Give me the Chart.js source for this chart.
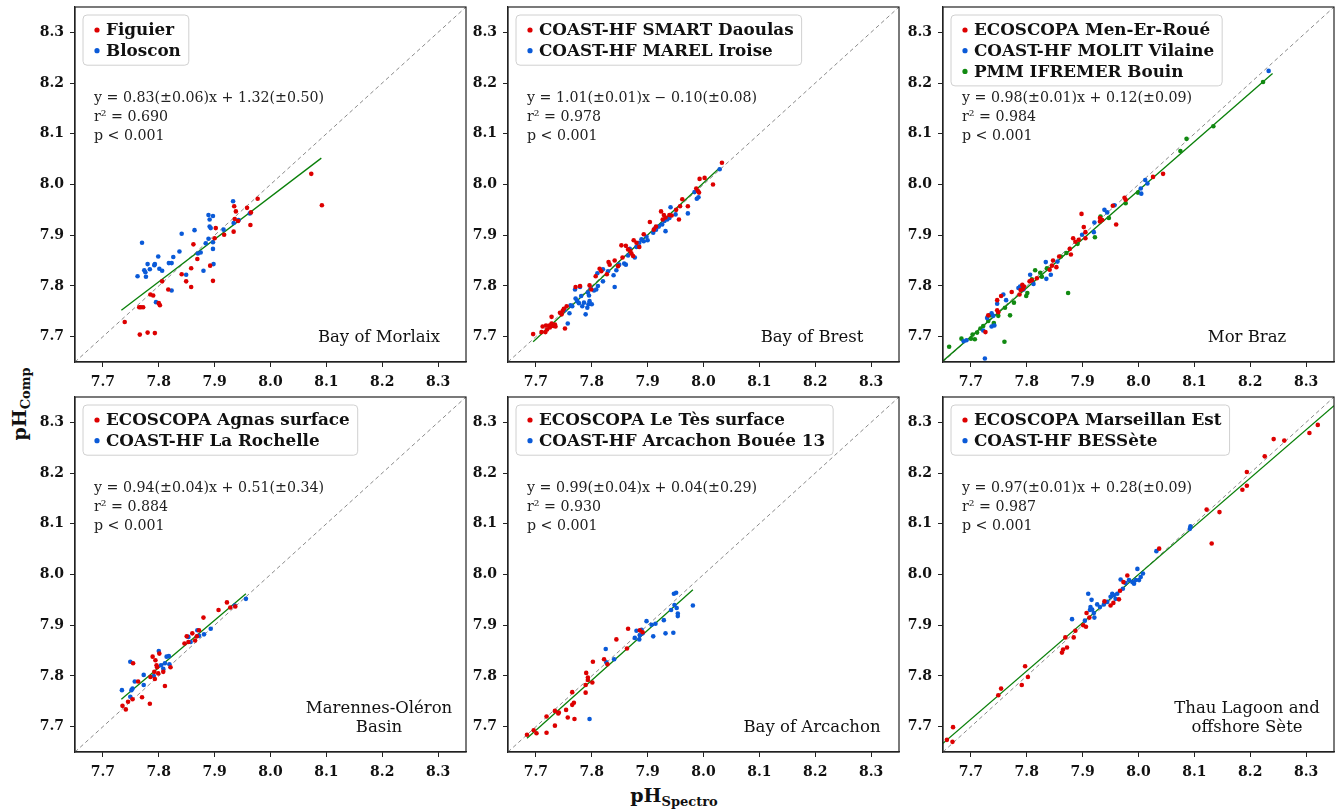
<!DOCTYPE html>
<html>
<head>
<meta charset="utf-8">
<script src="https://cdn.jsdelivr.net/npm/chart.js@4.4.0/dist/chart.umd.min.js"></script>
<style>
  body { margin: 0; background: #fff; width: 1338px; height: 809px; position: relative; overflow: hidden; font-family: "DejaVu Serif", serif; }
  canvas { position: absolute; }
  .lab { position: absolute; font-weight: bold; font-size: 19px; color: #111; white-space: nowrap; transform: translate(-50%, -50%); }
  .lab sub { font-size: 13px; vertical-align: -4px; }
  #ylab { left: 20px; top: 404px; transform: translate(-50%, -50%) rotate(-90deg); }
  #xlab { left: 674px; top: 796px; }
</style>
</head>
<body>
<div class="lab" id="ylab">pH<sub>Comp</sub></div>
<div class="lab" id="xlab">pH<sub>Spectro</sub></div>
<script>
const TICKS = [7.7, 7.8, 7.9, 8.0, 8.1, 8.2, 8.3];
const AXIS_MIN = 7.65, AXIS_MAX = 8.35;
const ONE_TO_ONE = [7.65, 8.35];

const RED = "#dd0000", BLUE = "#0a5ad8", GREEN = "#118a11", FIT = "#0a800a";

// Bay of Morlaix
const figuier = [[7.739,7.729],[7.766,7.704],[7.780,7.708],[7.793,7.707],[7.765,7.758],[7.768,7.758],[7.772,7.758],[7.785,7.783],[7.790,7.781],[7.800,7.766],[7.802,7.762],[7.806,7.809],[7.817,7.793],[7.841,7.823],[7.849,7.809],[7.858,7.835],[7.858,7.798],[7.862,7.882],[7.869,7.853],[7.892,7.840],[7.897,7.810],[7.900,7.894],[7.902,7.914],[7.917,7.901],[7.934,7.907],[7.935,7.957],[7.938,7.947],[7.936,7.932],[7.942,7.928],[7.958,7.954],[7.965,7.945],[7.964,7.920],[7.977,7.972],[8.073,8.021],[8.092,7.959]];
const bloscon = [[7.770,7.885],[7.762,7.819],[7.774,7.831],[7.776,7.827],[7.777,7.818],[7.780,7.843],[7.784,7.833],[7.792,7.841],[7.793,7.843],[7.799,7.858],[7.801,7.834],[7.806,7.830],[7.818,7.845],[7.823,7.845],[7.826,7.857],[7.837,7.868],[7.841,7.903],[7.795,7.768],[7.823,7.791],[7.849,7.822],[7.864,7.910],[7.870,7.864],[7.875,7.866],[7.880,7.830],[7.884,7.884],[7.889,7.940],[7.897,7.938],[7.891,7.931],[7.891,7.917],[7.893,7.914],[7.889,7.893],[7.897,7.886],[7.897,7.873],[7.898,7.843],[7.916,7.911],[7.933,7.967],[7.934,7.924],[7.943,7.930],[7.963,7.943]];
const morlaixFit = [[7.733,7.752],[8.091,8.052]];

// Bay of Brest
const daoulas = [[7.695,7.705],[7.712,7.720],[7.718,7.722],[7.724,7.722],[7.728,7.726],[7.720,7.714],[7.725,7.718],[7.731,7.721],[7.734,7.724],[7.717,7.709],[7.710,7.709],[7.728,7.739],[7.735,7.720],[7.752,7.716],[7.743,7.747],[7.748,7.751],[7.750,7.755],[7.746,7.744],[7.755,7.760],[7.771,7.798],[7.779,7.800],[7.796,7.801],[7.799,7.793],[7.807,7.819],[7.814,7.834],[7.817,7.829],[7.827,7.823],[7.830,7.847],[7.832,7.842],[7.841,7.850],[7.847,7.839],[7.853,7.880],[7.861,7.879],[7.855,7.856],[7.865,7.872],[7.869,7.869],[7.874,7.859],[7.871,7.864],[7.875,7.890],[7.880,7.885],[7.885,7.877],[7.893,7.902],[7.904,7.926],[7.911,7.911],[7.915,7.917],[7.924,7.947],[7.929,7.940],[7.932,7.935],[7.927,7.931],[7.939,7.940],[7.943,7.939],[7.956,7.931],[7.951,7.950],[7.958,7.957],[7.962,7.971],[7.972,7.957],[7.987,7.992],[7.990,7.987],[7.992,7.984],[7.993,8.011],[8.002,8.013],[8.017,8.000],[8.033,8.043]];
const iroise = [[7.751,7.752],[7.757,7.726],[7.760,7.746],[7.762,7.762],[7.765,7.760],[7.770,7.793],[7.771,7.775],[7.774,7.770],[7.777,7.766],[7.781,7.780],[7.783,7.760],[7.786,7.767],[7.789,7.744],[7.792,7.757],[7.794,7.764],[7.796,7.770],[7.800,7.764],[7.793,7.787],[7.795,7.781],[7.798,7.795],[7.804,7.791],[7.808,7.793],[7.811,7.800],[7.779,7.798],[7.810,7.825],[7.820,7.833],[7.820,7.809],[7.829,7.829],[7.839,7.821],[7.841,7.798],[7.844,7.831],[7.858,7.844],[7.861,7.842],[7.849,7.842],[7.865,7.860],[7.868,7.873],[7.877,7.856],[7.880,7.877],[7.885,7.885],[7.889,7.892],[7.893,7.888],[7.898,7.897],[7.900,7.890],[7.910,7.905],[7.913,7.913],[7.915,7.911],[7.920,7.917],[7.926,7.921],[7.930,7.928],[7.932,7.908],[7.935,7.931],[7.939,7.934],[7.941,7.955],[7.950,7.941],[7.972,7.943],[7.984,7.985],[7.988,7.972],[7.991,7.975],[8.029,8.030]];
const brestFit = [[7.695,7.690],[8.029,8.033]];

// Mor Braz
const menErRoue = [[7.726,7.709],[7.731,7.742],[7.747,7.772],[7.747,7.752],[7.754,7.780],[7.749,7.748],[7.773,7.788],[7.787,7.783],[7.789,7.792],[7.793,7.794],[7.795,7.799],[7.792,7.802],[7.805,7.809],[7.809,7.811],[7.818,7.815],[7.841,7.832],[7.845,7.840],[7.847,7.850],[7.853,7.837],[7.858,7.858],[7.877,7.873],[7.879,7.862],[7.883,7.894],[7.887,7.887],[7.893,7.891],[7.905,7.894],[7.898,7.942],[7.902,7.916],[7.905,7.906],[7.931,7.927],[7.931,7.934],[7.935,7.930],[7.954,7.958],[7.960,7.921],[7.975,7.974],[7.977,7.970],[8.026,8.015],[8.044,8.021]];
const vilaine = [[7.725,7.657],[7.687,7.691],[7.692,7.693],[7.722,7.712],[7.729,7.737],[7.737,7.746],[7.740,7.741],[7.742,7.722],[7.737,7.720],[7.747,7.765],[7.758,7.783],[7.763,7.772],[7.785,7.796],[7.788,7.799],[7.794,7.793],[7.806,7.822],[7.812,7.804],[7.834,7.847],[7.835,7.814],[7.843,7.822],[7.855,7.848],[7.899,7.901],[7.920,7.906],[7.921,7.925],[7.939,7.950],[7.944,7.945],[7.957,7.959],[8.004,7.992],[8.005,7.982],[8.012,8.009],[8.016,8.002],[8.233,8.224]];
const bouin = [[7.661,7.680],[7.683,7.696],[7.700,7.696],[7.703,7.704],[7.707,7.695],[7.711,7.708],[7.717,7.716],[7.722,7.721],[7.731,7.731],[7.734,7.742],[7.741,7.724],[7.749,7.741],[7.741,7.727],[7.760,7.690],[7.761,7.757],[7.770,7.742],[7.777,7.767],[7.799,7.780],[7.801,7.786],[7.809,7.813],[7.815,7.831],[7.824,7.826],[7.827,7.818],[7.836,7.835],[7.861,7.858],[7.871,7.865],[7.874,7.786],[7.891,7.883],[7.922,7.896],[7.932,7.937],[7.947,7.934],[7.977,7.963],[7.999,7.984],[8.075,8.066],[8.086,8.090],[8.134,8.115],[8.223,8.202]];
const morBrazFit = [[7.650,7.652],[8.240,8.219]];

// Marennes-Oléron
const agnas = [[7.735,7.741],[7.741,7.734],[7.745,7.749],[7.753,7.754],[7.754,7.825],[7.763,7.789],[7.770,7.758],[7.784,7.745],[7.785,7.798],[7.793,7.794],[7.792,7.808],[7.789,7.838],[7.794,7.831],[7.796,7.821],[7.797,7.817],[7.801,7.844],[7.799,7.805],[7.808,7.808],[7.811,7.780],[7.821,7.817],[7.846,7.864],[7.850,7.878],[7.853,7.867],[7.860,7.884],[7.865,7.870],[7.868,7.878],[7.872,7.890],[7.880,7.915],[7.907,7.930],[7.922,7.945],[7.928,7.935],[7.937,7.937]];
const rochelle = [[7.734,7.772],[7.749,7.759],[7.753,7.775],[7.751,7.772],[7.749,7.828],[7.757,7.789],[7.773,7.802],[7.773,7.782],[7.791,7.800],[7.800,7.849],[7.804,7.821],[7.808,7.814],[7.811,7.825],[7.814,7.838],[7.818,7.839],[7.819,7.823],[7.853,7.877],[7.857,7.867],[7.869,7.890],[7.872,7.879],[7.881,7.882],[7.893,7.893],[7.936,7.939],[7.956,7.952]];
const marennesFit = [[7.733,7.754],[7.956,7.962]];

// Bay of Arcachon
const lesTes = [[7.684,7.684],[7.696,7.693],[7.701,7.687],[7.719,7.688],[7.719,7.720],[7.734,7.731],[7.740,7.726],[7.741,7.728],[7.734,7.702],[7.754,7.733],[7.757,7.718],[7.765,7.743],[7.768,7.747],[7.769,7.715],[7.765,7.768],[7.789,7.767],[7.789,7.782],[7.793,7.792],[7.793,7.797],[7.790,7.806],[7.801,7.787],[7.802,7.828],[7.822,7.833],[7.828,7.823],[7.844,7.872],[7.863,7.854],[7.865,7.893],[7.886,7.890],[7.891,7.886]];
const bouee13 = [[7.796,7.715],[7.825,7.853],[7.826,7.827],[7.840,7.833],[7.877,7.875],[7.880,7.889],[7.885,7.872],[7.886,7.880],[7.889,7.891],[7.891,7.884],[7.898,7.908],[7.907,7.901],[7.910,7.878],[7.914,7.903],[7.929,7.910],[7.932,7.884],[7.942,7.930],[7.946,7.885],[7.948,7.940],[7.952,7.934],[7.954,7.923],[7.954,7.918],[7.947,7.962],[7.951,7.964],[7.981,7.939]];
const arcachonFit = [[7.684,7.677],[7.981,7.970]];

// Thau Lagoon and offshore Sète
const marseillan = [[7.657,7.674],[7.667,7.670],[7.668,7.699],[7.749,7.762],[7.754,7.775],[7.791,7.782],[7.797,7.819],[7.802,7.798],[7.863,7.846],[7.865,7.852],[7.872,7.856],[7.869,7.876],[7.884,7.876],[7.887,7.889],[7.901,7.900],[7.906,7.897],[7.912,7.915],[7.907,7.924],[7.939,7.947],[7.950,7.939],[7.955,7.944],[7.965,7.951],[7.967,7.968],[7.973,7.985],[7.980,7.998],[8.037,8.051],[8.122,8.128],[8.131,8.061],[8.145,8.123],[8.186,8.167],[8.194,8.175],[8.194,8.202],[8.226,8.233],[8.242,8.267],[8.261,8.264],[8.306,8.279],[8.321,8.295]];
const bessete = [[7.881,7.912],[7.904,7.909],[7.910,7.962],[7.916,7.950],[7.914,7.936],[7.917,7.931],[7.920,7.924],[7.913,7.930],[7.921,7.915],[7.926,7.941],[7.931,7.936],[7.938,7.941],[7.944,7.946],[7.950,7.956],[7.953,7.962],[7.956,7.959],[7.959,7.952],[7.962,7.962],[7.968,7.990],[7.972,7.972],[7.977,7.983],[7.983,7.989],[7.989,7.985],[7.992,7.982],[7.995,7.989],[7.998,8.011],[8.001,7.989],[8.004,7.995],[8.008,8.002],[8.032,8.046],[8.092,8.090],[8.093,8.095]];
const thauFit = [[7.650,7.667],[8.350,8.333]];

const panels = [
  { col: 0, row: 0, series: [["Figuier", RED, figuier], ["Bloscon", BLUE, bloscon]], fit: morlaixFit,
    stats: ["y = 0.83(±0.06)x + 1.32(±0.50)", "r² = 0.690", "p < 0.001"], site: ["Bay of Morlaix"] },
  { col: 1, row: 0, series: [["COAST-HF SMART Daoulas", RED, daoulas], ["COAST-HF MAREL Iroise", BLUE, iroise]], fit: brestFit,
    stats: ["y = 1.01(±0.01)x − 0.10(±0.08)", "r² = 0.978", "p < 0.001"], site: ["Bay of Brest"] },
  { col: 2, row: 0, series: [["ECOSCOPA Men-Er-Roué", RED, menErRoue], ["COAST-HF MOLIT Vilaine", BLUE, vilaine], ["PMM IFREMER Bouin", GREEN, bouin]], fit: morBrazFit,
    stats: ["y = 0.98(±0.01)x + 0.12(±0.09)", "r² = 0.984", "p < 0.001"], site: ["Mor Braz"] },
  { col: 0, row: 1, series: [["ECOSCOPA Agnas surface", RED, agnas], ["COAST-HF La Rochelle", BLUE, rochelle]], fit: marennesFit,
    stats: ["y = 0.94(±0.04)x + 0.51(±0.34)", "r² = 0.884", "p < 0.001"], site: ["Marennes-Oléron", "Basin"] },
  { col: 1, row: 1, series: [["ECOSCOPA Le Tès surface", RED, lesTes], ["COAST-HF Arcachon Bouée 13", BLUE, bouee13]], fit: arcachonFit,
    stats: ["y = 0.99(±0.04)x + 0.04(±0.29)", "r² = 0.930", "p < 0.001"], site: ["Bay of Arcachon"] },
  { col: 2, row: 1, series: [["ECOSCOPA Marseillan Est", RED, marseillan], ["COAST-HF BESSète", BLUE, bessete]], fit: thauFit,
    stats: ["y = 0.97(±0.01)x + 0.28(±0.09)", "r² = 0.987", "p < 0.001"], site: ["Thau Lagoon and", "offshore Sète"] },
];

const COLS = [75, 508, 943];
const ROWS = [7, 397];
const PW = 391, PH = 355;
const PAD_L = 70, PAD_T = 6, PAD_R = 6, PAD_B = 34;

const SERIF = "'DejaVu Serif', serif";

// frame, legend box, fit stats and site name
const decor = {
  id: "decor",
  afterDraw(chart, args, opts) {
    const p = opts.panel;
    const { ctx, chartArea: ca } = chart;
    ctx.save();

    ctx.strokeStyle = "#222";
    ctx.lineWidth = 1.2;
    ctx.strokeRect(ca.left, ca.top, ca.right - ca.left, ca.bottom - ca.top);

    // legend
    ctx.font = "bold 16.8px " + SERIF;
    const textW = Math.max(...p.series.map((s) => ctx.measureText(s[0]).width));
    const bx = ca.left + 8, by = ca.top + 8;
    const bw = 31 + textW, bh = 8.8 + p.series.length * 20.7;
    ctx.beginPath();
    ctx.roundRect(bx, by, bw, bh, 4);
    ctx.fillStyle = "rgba(255,255,255,0.85)";
    ctx.fill();
    ctx.strokeStyle = "#d0d0d0";
    ctx.lineWidth = 1;
    ctx.stroke();
    ctx.textBaseline = "middle";
    p.series.forEach((s, i) => {
      const y = ca.top + 23 + i * 20.7;
      ctx.fillStyle = s[1];
      ctx.beginPath();
      ctx.arc(ca.left + 22, y, 2.6, 0, Math.PI * 2);
      ctx.fill();
      ctx.fillStyle = "#111";
      ctx.textAlign = "left";
      ctx.fillText(s[0], ca.left + 31, y + 1);
    });

    // regression stats
    ctx.font = "14.2px " + SERIF;
    ctx.fillStyle = "#222";
    p.stats.forEach((t, i) => ctx.fillText(t, ca.left + 19, ca.top + 91 + i * 19.3));

    // site name
    ctx.font = "16.5px " + SERIF;
    ctx.fillStyle = "#111";
    ctx.textAlign = "center";
    const n = p.site.length;
    p.site.forEach((t, i) => ctx.fillText(t, ca.left + 304, ca.top + 331 - (n - 1 - i) * 19));

    ctx.restore();
  },
};

const axis = (pos) => ({
  type: "linear",
  position: pos,
  min: AXIS_MIN,
  max: AXIS_MAX,
  afterBuildTicks: (s) => { s.ticks = TICKS.map((v) => ({ value: v })); },
  afterFit: (s) => {
    if (pos === "left") s.width = PAD_L; else s.height = PAD_B;
    s.paddingTop = 0; s.paddingBottom = 0; s.paddingLeft = 0; s.paddingRight = 0;
  },
  grid: { drawOnChartArea: false, drawTicks: true, tickLength: 5, color: "#222", lineWidth: 1 },
  border: { display: true, color: "#222", width: 1.2 },
  ticks: {
    color: "#111",
    padding: pos === "left" ? 6 : 7,
    autoSkip: false,
    maxRotation: 0,
    font: { family: SERIF, weight: "bold", size: 14 },
    callback: (v) => Number(v).toFixed(1),
  },
});

panels.forEach((p) => {
  const L = COLS[p.col], T = ROWS[p.row];
  const c = document.createElement("canvas");
  c.width = PAD_L + PW + PAD_R;
  c.height = PAD_T + PH + PAD_B;
  c.style.left = L - PAD_L + "px";
  c.style.top = T - PAD_T + "px";
  document.body.appendChild(c);

  const toPts = (arr) => arr.map(([x, y]) => ({ x, y }));
  const datasets = p.series.map(([label, color, pts]) => ({
    label,
    data: toPts(pts),
    backgroundColor: color,
    borderColor: color,
    pointRadius: 2.3,
    pointBorderWidth: 0,
    order: 1,
  }));
  datasets.push({
    label: "fit", data: toPts(p.fit), showLine: true,
    borderColor: FIT, borderWidth: 1.3, pointRadius: 0, order: 5,
  });
  datasets.push({
    label: "1:1", data: ONE_TO_ONE.map((v) => ({ x: v, y: v })), showLine: true,
    borderColor: "#8a8a8a", borderWidth: 1, borderDash: [4, 3], pointRadius: 0, order: 10,
  });

  new Chart(c, {
    type: "scatter",
    data: { datasets },
    options: {
      responsive: false,
      animation: false,
      devicePixelRatio: 1,
      events: [],
      layout: { padding: { left: 0, top: PAD_T, right: PAD_R, bottom: 0 } },
      plugins: { legend: { display: false }, tooltip: { enabled: false }, decor: { panel: p } },
      scales: { x: axis("bottom"), y: axis("left") },
    },
    plugins: [decor],
  });
});
</script>
</body>
</html>
